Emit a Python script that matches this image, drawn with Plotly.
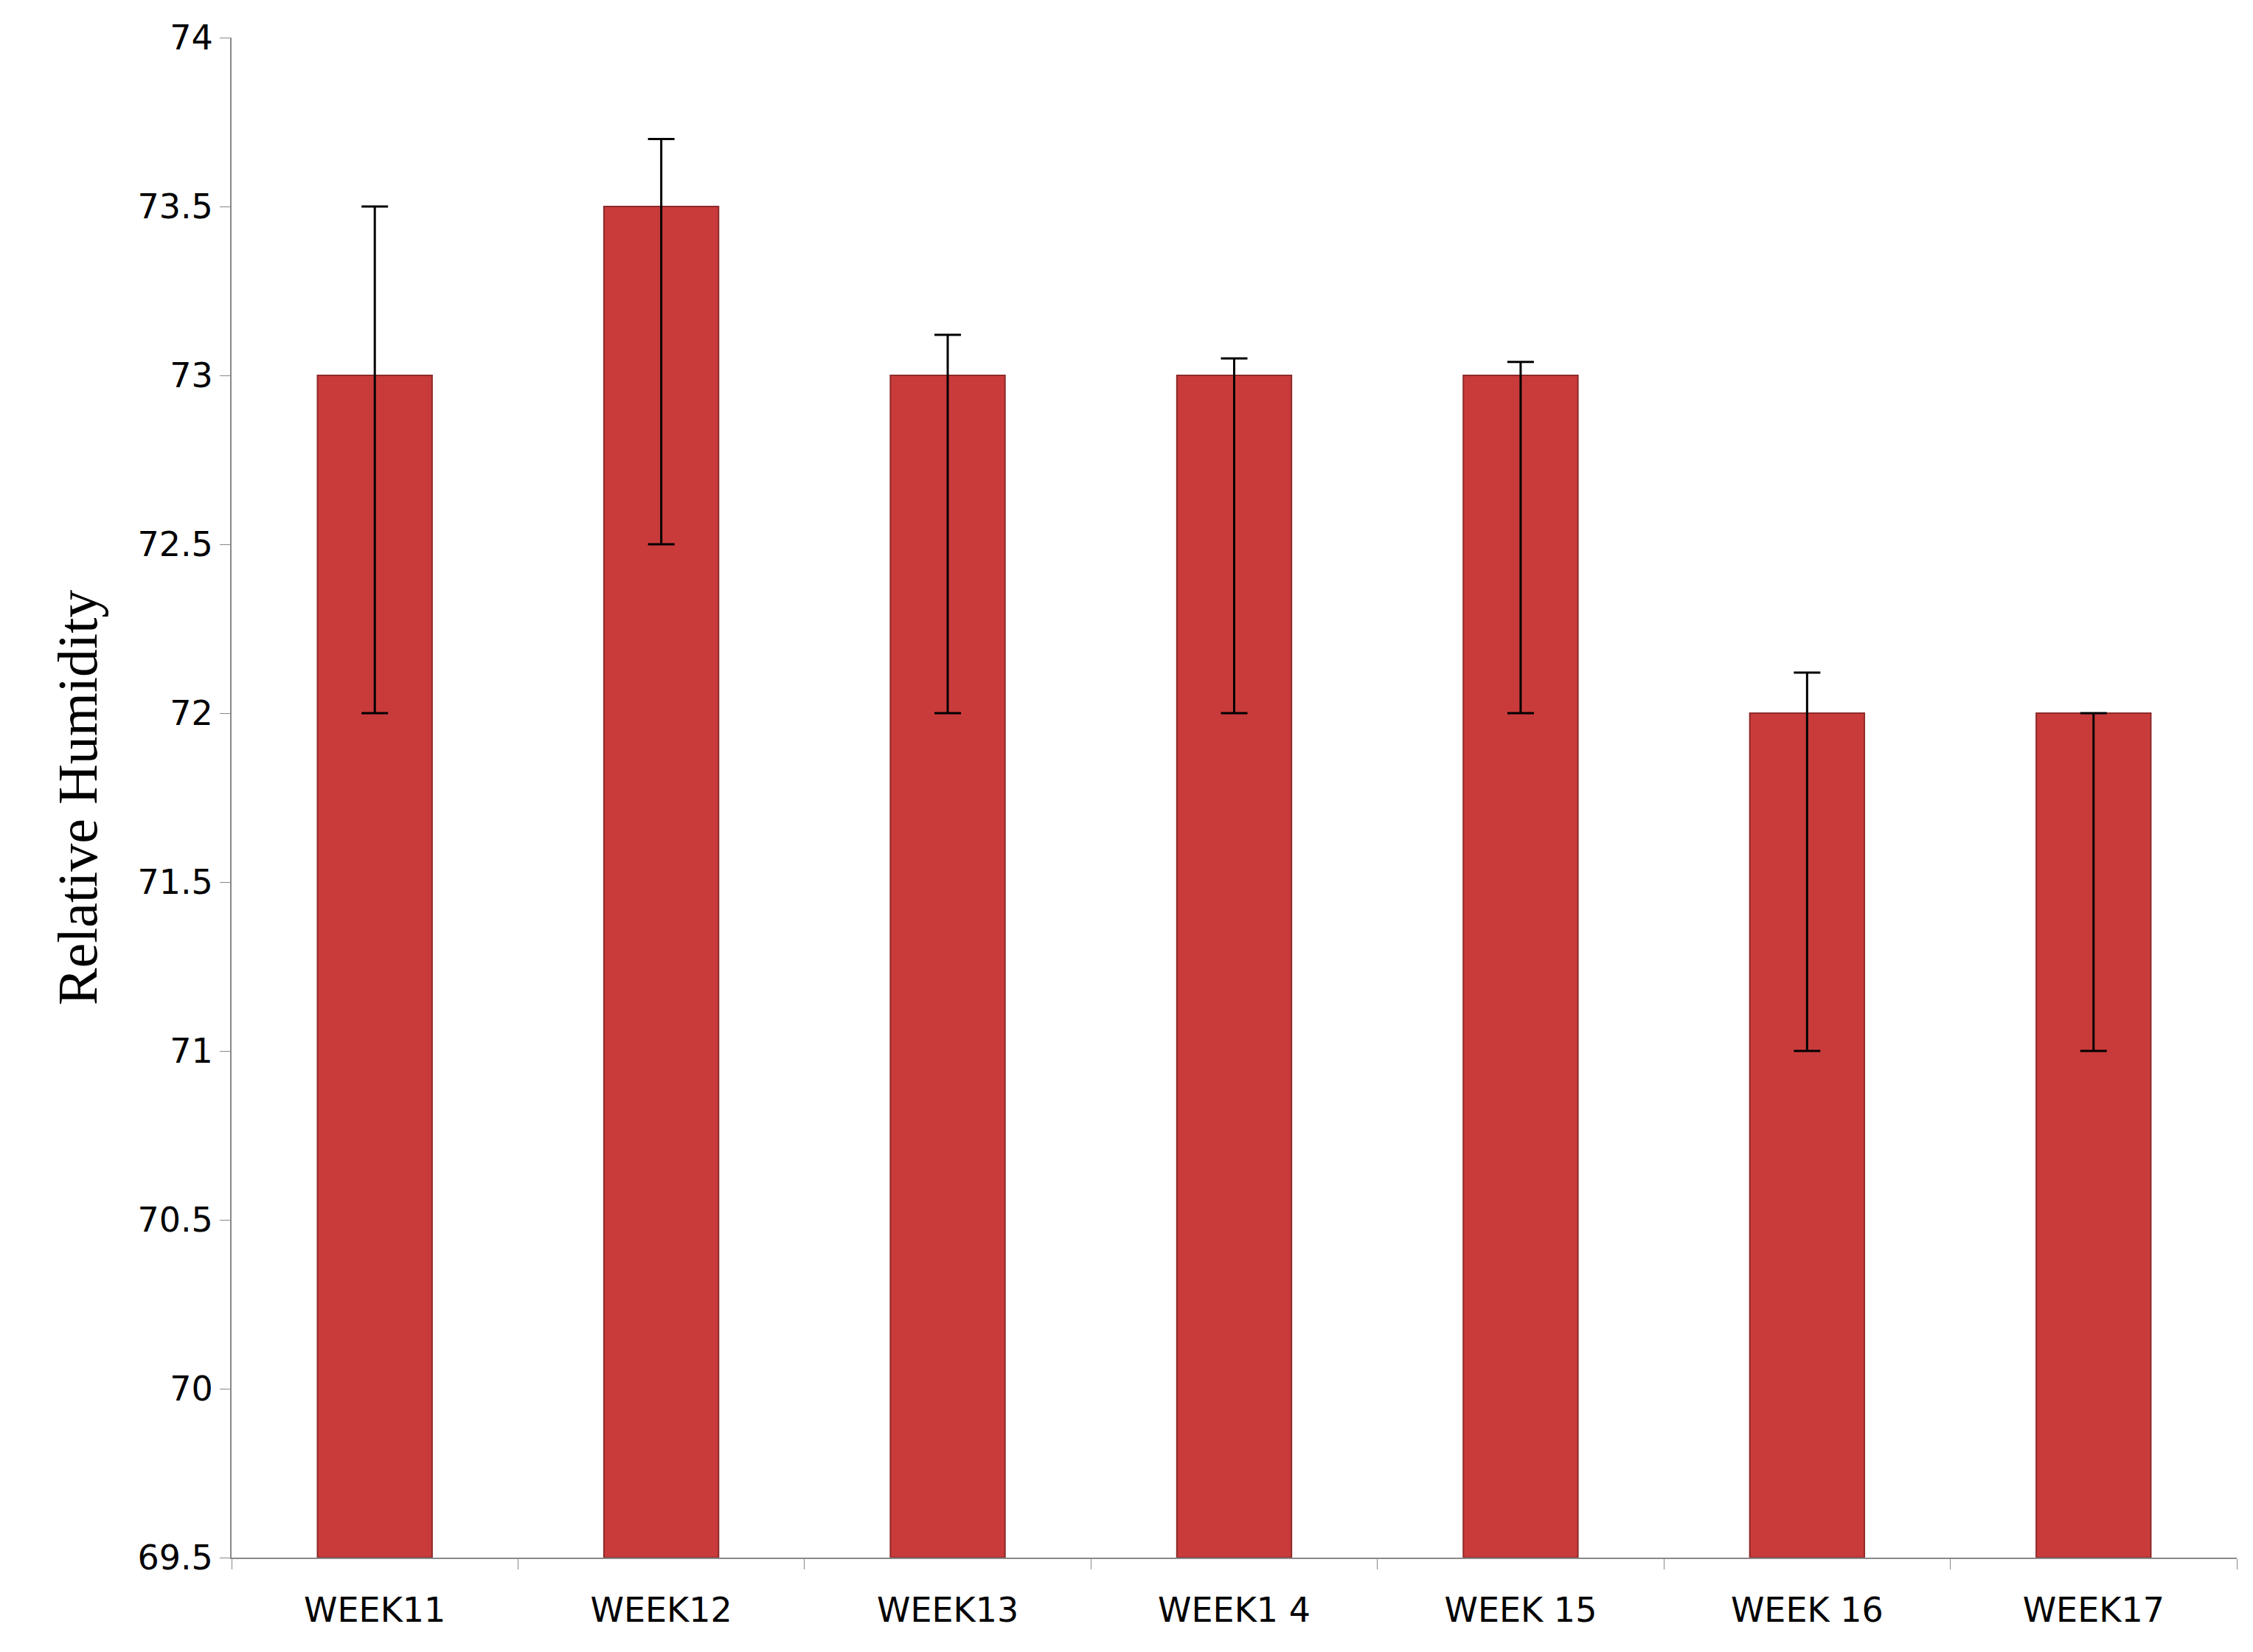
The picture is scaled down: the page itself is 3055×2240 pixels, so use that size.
import plotly.graph_objects as go

weeks = ["WEEK11", "WEEK12", "WEEK13", "WEEK1 4", "WEEK 15", "WEEK 16", "WEEK17"]
humidity = [73, 73.5, 73, 73, 73, 72, 72]
err_plus = [0.5, 0.2, 0.12, 0.05, 0.04, 0.12, 0.0]
err_minus = [1, 1, 1, 1, 1, 1, 1]
y_ticks = [69.5, 70, 70.5, 71, 71.5, 72, 72.5, 73, 73.5, 74]

fig = go.Figure(
    go.Bar(
        x=weeks,
        y=[h - 69.5 for h in humidity],
        base=69.5,
        width=0.4,
        marker=dict(color="#c93b3b", line=dict(color="#8e2a2a", width=2)),
        error_y=dict(
            type="data",
            symmetric=False,
            array=err_plus,
            arrayminus=err_minus,
            color="black",
            thickness=3,
            width=18,
        ),
    )
)
fig.update_xaxes(
    showline=True,
    linecolor="#888888",
    linewidth=2,
    ticks="outside",
    tickson="boundaries",
    ticklen=14,
    tickcolor="#888888",
    ticklabelstandoff=30,
    tickfont=dict(family="DejaVu Sans", size=46, color="black"),
)
fig.update_yaxes(
    range=[69.5, 74],
    tickvals=y_ticks,
    ticktext=[f"{v:g}" for v in y_ticks],
    showline=True,
    linecolor="#888888",
    linewidth=2,
    ticks="outside",
    ticklen=14,
    tickcolor="#888888",
    showgrid=False,
    zeroline=False,
    tickfont=dict(family="DejaVu Sans", size=46, color="black"),
    title=dict(
        text="Relative Humidity",
        font=dict(family="Liberation Serif", size=76, color="black"),
        standoff=30,
    ),
)
fig.update_layout(
    width=3055,
    height=2240,
    margin=dict(l=306, r=30, t=43, b=136),
    plot_bgcolor="white",
    paper_bgcolor="white",
    showlegend=False,
)
fig.write_html("out.html")
